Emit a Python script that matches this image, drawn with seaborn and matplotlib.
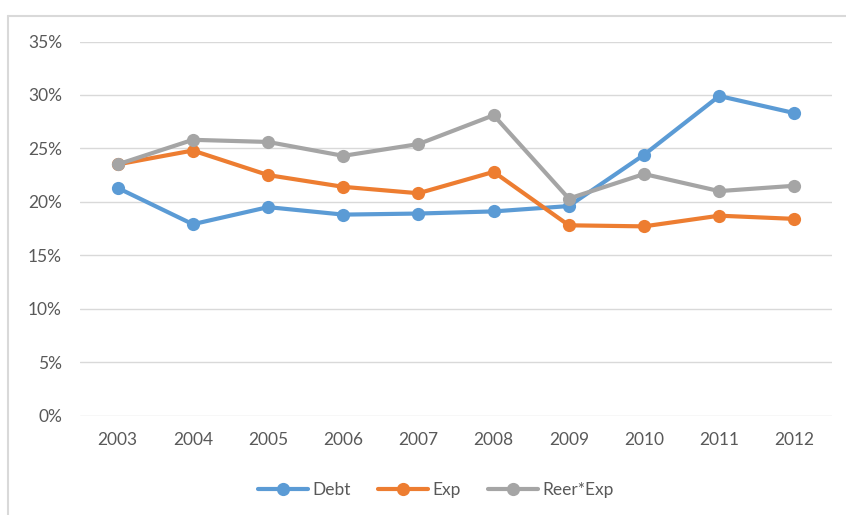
import numpy as np
import pandas as pd
import matplotlib
matplotlib.use("Agg")
import matplotlib.pyplot as plt
from matplotlib.lines import Line2D
from matplotlib.ticker import FuncFormatter
import seaborn as sns

# values (percent)
years = ["2003", "2004", "2005", "2006", "2007", "2008", "2009", "2010", "2011", "2012"]
debt = [21.3, 17.9, 19.5, 18.8, 18.9, 19.1, 19.6, 24.4, 29.9, 28.3]
exp = [23.5, 24.8, 22.5, 21.4, 20.8, 22.8, 17.8, 17.7, 18.7, 18.4]
reer_exp = [23.5, 25.8, 25.6, 24.3, 25.4, 28.1, 20.3, 22.6, 21.0, 21.5]
series_names = ["Debt", "Exp", "Reer*Exp"]
colors = ["#5B9BD5", "#ED7D31", "#A5A5A5"]

sns.set_style("white")
plt.rcParams['font.family'] = ['Lato', 'DejaVu Sans']

df = pd.DataFrame({"pos": np.arange(len(years)), "Debt": debt, "Exp": exp, "Reer*Exp": reer_exp})
long_df = df.melt(id_vars="pos", var_name="series", value_name="value")

fig = plt.figure(figsize=(8.46, 5.15), dpi=100)
ax = fig.add_axes([0.0946, 0.1932, 0.8889, 0.7262])

sns.lineplot(data=long_df, x="pos", y="value", hue="series", hue_order=series_names,
             palette=colors, marker="o", markersize=9.5, markeredgewidth=0,
             linewidth=3, ax=ax, legend=False)

ax.set_xlim(-0.5, len(years) - 0.5)
ax.set_ylim(0, 35)
ax.set_yticks(np.arange(0, 36, 5))
ax.yaxis.set_major_formatter(FuncFormatter(lambda v, p: f"{v:.0f}%"))
ax.set_xticks(np.arange(len(years)))
ax.set_xticklabels(years)
ax.set_xlabel("")
ax.set_ylabel("")
ax.grid(axis="y", color="#D9D9D9", linewidth=1)
ax.set_axisbelow(True)
for s in ax.spines.values():
    s.set_visible(False)
ax.tick_params(axis="y", length=0, pad=13, labelsize=12.5, labelcolor="#595959")
ax.tick_params(axis="x", length=0, pad=12, labelsize=12.5, labelcolor="#595959")

handles = [Line2D([0], [0], color=c, lw=3, marker="o", markersize=9.5, markeredgewidth=0)
           for c in colors]
fig.legend(handles, series_names, loc="center", bbox_to_anchor=(0.515, 0.0485), ncol=3,
           frameon=False, fontsize=12.5, handlelength=2.9, handletextpad=0.2,
           columnspacing=1.6, labelcolor="#595959")

# chart area border (left and top visible)
fig.add_artist(Line2D([0.0095, 0.0095], [0.0, 0.969], color="#D9D9D9", lw=1.5))
fig.add_artist(Line2D([0.0095, 1.0], [0.969, 0.969], color="#D9D9D9", lw=1.5))

fig.savefig("out.png", dpi=100)
